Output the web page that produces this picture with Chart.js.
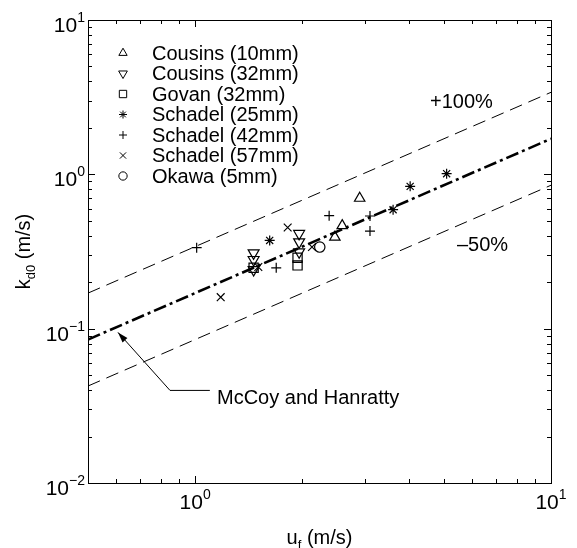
<!DOCTYPE html>
<html>
<head>
<meta charset="utf-8">
<script src="https://cdn.jsdelivr.net/npm/chart.js@4.4.0/dist/chart.umd.min.js"></script>
<style>
  html, body { margin: 0; padding: 0; background: #fff; }
  #wrap { width: 577px; height: 548px; }
</style>
</head>
<body>
<div id="wrap"><canvas id="graph" width="577" height="548"></canvas></div>
<script>
// values: u_f (m/s) against k_d0 (m/s)
var cousins10U = [2.90, 2.59, 2.47];
var cousins10K = [0.70, 0.465, 0.392];
var cousins32U = [1.46, 1.46, 1.46, 1.96, 1.96, 1.96];
var cousins32K = [0.309, 0.280, 0.241, 0.413, 0.364, 0.314];
var govanU = [1.46, 1.94, 1.94];
var govanK = [0.248, 0.288, 0.257];
var schadel25U = [1.62, 3.60, 4.02, 5.09];
var schadel25K = [0.373, 0.59, 0.836, 1.01];
var schadel42U = [1.01, 1.69, 2.38, 3.10, 3.10];
var schadel42K = [0.335, 0.248, 0.54, 0.537, 0.429];
var schadel57U = [1.18, 1.505, 1.82, 2.13];
var schadel57K = [0.160, 0.251, 0.452, 0.338];
var okawaU = [2.24];
var okawaK = [0.338];

// correlation lines, end points at the axis limits
var lineU = [0.5, 10];
var mccoyK = [0.085, 1.7];
var plus100K = [0.17, 3.4];
var minus50K = [0.0425, 0.85];

// axes
var xMin = 0.5, xMax = 10, yMin = 0.01, yMax = 10;
var xMajor = [1, 10];
var xMajorExp = ['0', '1'];
var yMajor = [0.01, 0.1, 1, 10];
var yMajorExp = ['\u22122', '\u22121', '0', '1'];

var FONT = '"Liberation Sans", Arial, Helvetica, sans-serif';

function pts(u, k) {
  return u.map(function(v, i) { return { x: v, y: k[i] }; });
}

function marks(label, u, k, style, radius, rotation) {
  return {
    type: 'scatter',
    label: label,
    data: pts(u, k),
    pointStyle: style,
    pointRadius: radius,
    pointHoverRadius: radius,
    pointRotation: rotation || 0,
    pointBorderColor: '#000',
    pointBackgroundColor: 'rgba(0,0,0,0)',
    pointBorderWidth: 1.2,
    showLine: false
  };
}

function corr(k, width, dash) {
  return {
    type: 'line',
    data: pts(lineU, k),
    borderColor: '#000',
    borderWidth: width,
    borderDash: dash,
    pointRadius: 0,
    fill: false,
    tension: 0
  };
}

var series = [
  marks('Cousins (10mm)', cousins10U, cousins10K, 'triangle', 6),
  marks('Cousins (32mm)', cousins32U, cousins32K, 'triangle', 6.3, 180),
  marks('Govan (32mm)', govanU, govanK, 'rect', 6.5),
  marks('Schadel (25mm)', schadel25U, schadel25K, 'star', 5),
  marks('Schadel (42mm)', schadel42U, schadel42K, 'cross', 5),
  marks('Schadel (57mm)', schadel57U, schadel57K, 'crossRot', 5.5),
  marks('Okawa (5mm)', okawaU, okawaK, 'circle', 5.2)
];

// text in runs so sub/superscripts can be drawn
function drawRuns(ctx, runs, x, y, align) {
  var w = 0;
  runs.forEach(function(r) {
    ctx.font = r.size + 'px ' + FONT;
    r.w = ctx.measureText(r.t).width;
    w += r.w;
  });
  var cx = align === 'right' ? x - w : (align === 'left' ? x : x - w / 2);
  ctx.textAlign = 'left';
  ctx.textBaseline = 'alphabetic';
  runs.forEach(function(r) {
    ctx.font = r.size + 'px ' + FONT;
    ctx.fillText(r.t, cx, y + (r.dy || 0));
    cx += r.w;
  });
}

function pow10(exp) {
  return [{ t: '10', size: 21 }, { t: exp, size: 14, dy: -10 }];
}

var framePlugin = {
  id: 'frame',
  afterDraw: function(chart) {
    var ctx = chart.ctx, a = chart.chartArea;
    var xs = chart.scales.x, ys = chart.scales.y;
    ctx.save();
    ctx.strokeStyle = '#000';
    ctx.fillStyle = '#000';
    ctx.lineWidth = 1;
    ctx.setLineDash([]);
    ctx.strokeRect(a.left + 0.5, a.top + 0.5, a.right - a.left, a.bottom - a.top);

    function tickX(v, len) {
      var p = Math.round(xs.getPixelForValue(v)) + 0.5;
      ctx.beginPath();
      ctx.moveTo(p, a.bottom); ctx.lineTo(p, a.bottom - len);
      ctx.moveTo(p, a.top); ctx.lineTo(p, a.top + len);
      ctx.stroke();
    }
    function tickY(v, len) {
      var p = Math.round(ys.getPixelForValue(v)) + 0.5;
      ctx.beginPath();
      ctx.moveTo(a.left, p); ctx.lineTo(a.left + len, p);
      ctx.moveTo(a.right, p); ctx.lineTo(a.right - len, p);
      ctx.stroke();
    }
    var d, m, v;
    for (d = -3; d <= 1; d++) {
      for (m = 2; m <= 9; m++) {
        v = m * Math.pow(10, d);
        if (v > xMin && v < xMax) tickX(v, 4);
        if (v > yMin && v < yMax) tickY(v, 4);
      }
    }
    xMajor.forEach(function(v) { tickX(v, 7); });
    yMajor.forEach(function(v) { tickY(v, 7); });

    // tick labels
    xMajor.forEach(function(v, i) {
      drawRuns(ctx, pow10(xMajorExp[i]), xs.getPixelForValue(v), a.bottom + 26, 'center');
    });
    yMajor.forEach(function(v, i) {
      drawRuns(ctx, pow10(yMajorExp[i]), a.left - 3, ys.getPixelForValue(v) + 12, 'right');
    });

    // axis titles
    drawRuns(ctx, [{ t: 'u', size: 20 }, { t: 'f', size: 13, dy: 5 }, { t: ' (m/s)', size: 20 }],
      (a.left + a.right) / 2, a.bottom + 61, 'center');
    ctx.save();
    ctx.translate(30, (a.top + a.bottom) / 2);
    ctx.rotate(-Math.PI / 2);
    drawRuns(ctx, [{ t: 'k', size: 20 }, { t: 'd0', size: 13, dy: 5 }, { t: ' (m/s)', size: 20 }],
      0, 0, 'center');
    ctx.restore();

    // line labels
    ctx.font = '20px ' + FONT;
    ctx.textAlign = 'left';
    ctx.textBaseline = 'middle';
    ctx.fillText('+100%', 430, 102);
    ctx.fillText('\u201350%', 457, 245);

    // McCoy and Hanratty arrow
    var tipX = xs.getPixelForValue(0.607), tipY = ys.getPixelForValue(0.0946);
    var elbX = xs.getPixelForValue(0.85), elbY = ys.getPixelForValue(0.0398);
    var endX = xs.getPixelForValue(1.10);
    ctx.beginPath();
    ctx.moveTo(endX, elbY); ctx.lineTo(elbX, elbY); ctx.lineTo(tipX, tipY);
    ctx.stroke();
    var ang = Math.atan2(tipY - elbY, tipX - elbX);
    ctx.beginPath();
    ctx.moveTo(tipX, tipY);
    ctx.lineTo(tipX - 11 * Math.cos(ang - 0.3), tipY - 11 * Math.sin(ang - 0.3));
    ctx.lineTo(tipX - 11 * Math.cos(ang + 0.3), tipY - 11 * Math.sin(ang + 0.3));
    ctx.closePath();
    ctx.fill();
    ctx.fillText('McCoy and Hanratty', xs.getPixelForValue(1.152), elbY + 8);

    // legend
    var lx = 123, ly = 53, step = 20.5;
    series.forEach(function(s, i) {
      var y = ly + i * step;
      ctx.strokeStyle = '#000';
      ctx.fillStyle = 'rgba(0,0,0,0)';
      ctx.lineWidth = 1;
      Chart.helpers.drawPoint(ctx, {
        pointStyle: s.pointStyle, radius: s.pointRadius * 0.8,
        rotation: s.pointRotation, borderWidth: 1
      }, lx, y);
      ctx.fillStyle = '#000';
      ctx.font = '20px ' + FONT;
      ctx.textAlign = 'left';
      ctx.textBaseline = 'middle';
      ctx.fillText(s.label, 152, y + 1);
    });
    ctx.restore();
  }
};

var ctx = document.getElementById('graph').getContext('2d');
var chart = new Chart(ctx, {
  type: 'scatter',
  data: {
    datasets: [
      corr(plus100K, 1, [13, 7]),
      corr(minus50K, 1, [13, 7]),
      corr(mccoyK, 2.6, [13, 4, 3, 4])
    ].concat(series)
  },
  options: {
    responsive: false,
    animation: false,
    devicePixelRatio: 1,
    layout: { padding: { left: 88, top: 20, right: 26, bottom: 65 } },
    plugins: {
      legend: { display: false },
      tooltip: { enabled: false }
    },
    scales: {
      x: { type: 'logarithmic', min: xMin, max: xMax, display: false },
      y: { type: 'logarithmic', min: yMin, max: yMax, display: false }
    }
  },
  plugins: [framePlugin]
});
</script>
</body>
</html>
